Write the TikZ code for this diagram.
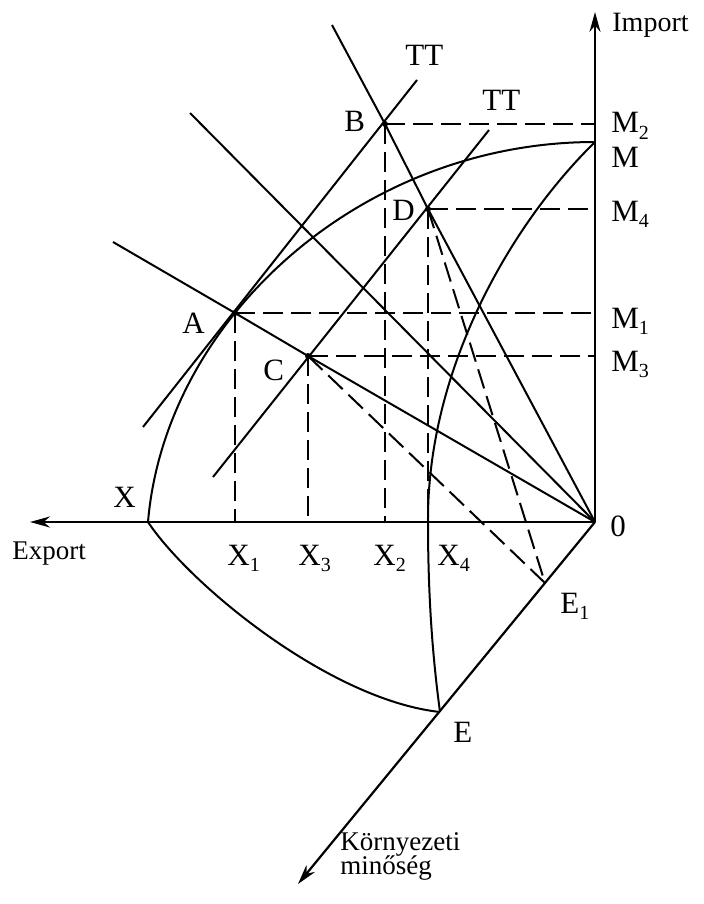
\documentclass[tikz,border=0pt]{standalone}
\usepackage{fontspec}
\setmainfont{Liberation Serif}
\usetikzlibrary{arrows.meta}
\newcommand{\lsub}[1]{\raisebox{-0.45ex}{\fontsize{10}{10}\selectfont #1}}
\begin{document}
\begin{tikzpicture}[x=0.5pt,y=-0.5pt,
  lbl/.style={font=\fontsize{15.5}{17}\selectfont, inner sep=0pt, anchor=base west},
  small/.style={font=\fontsize{13.5}{14}\selectfont, inner sep=0pt, anchor=base west},
  ln/.style={line width=1pt},
  dsh/.style={line width=1pt, dash pattern=on 10pt off 4pt},
  axis/.style={line width=1.1pt, -{Stealth[length=10pt,width=5.5pt]}},
  pt/.style={circle, fill, inner sep=0pt, minimum size=3pt}]
\useasboundingbox (0,0) rectangle (704,904);
% key points
\coordinate (O) at (595,522);
\coordinate (Xp) at (148,522);
\coordinate (M) at (595,142);
\coordinate (E) at (440,712);
\coordinate (E1) at (545,583);
\coordinate (A) at (235,313);
\coordinate (B) at (385,124);
\coordinate (C) at (308,356);
\coordinate (D) at (428,209);
\coordinate (X1) at (A |- O);
\coordinate (X2) at (B |- O);
\coordinate (X3) at (C |- O);
\coordinate (X4) at (D |- O);
\coordinate (M1) at (O |- A);
\coordinate (M2) at (O |- B);
\coordinate (M3) at (O |- C);
\coordinate (M4) at (O |- D);
\coordinate (ExpTip) at (30,522);
\coordinate (ImpTip) at (595,12);
\coordinate (EnvTip) at (298,884);
\coordinate (L1) at (113,242);
\coordinate (L2) at (190,113);
\coordinate (L3) at (332,25);
\coordinate (T1a) at (143,427);
\coordinate (T1b) at (417,80);
\coordinate (T2a) at (213,477);
\coordinate (T2b) at (489,130);
% axes
\draw[axis] (O) -- (ExpTip);
\draw[axis] (O) -- (ImpTip);
\draw[axis] (O) -- (EnvTip);
% curves
\draw[ln] (Xp) .. controls (165,320) and (360,142) .. (M);
\draw[ln] (M) .. controls (510,225) and (427,370) .. (X4) .. controls (428,600) and (433,660) .. (E);
\draw[ln] (Xp) .. controls (190,585) and (330,700) .. (E);
% straight lines
\draw[ln] (L1) -- (A) -- (C) -- (O);
\draw[ln] (L2) -- (O);
\draw[ln] (L3) -- (B) -- (D) -- (O);
\draw[ln] (T1a) -- (T1b);
\draw[ln] (T2a) -- (T2b);
% dashed
\draw[dsh] (B) -- (M2);
\draw[dsh] (B) -- (X2);
\draw[dsh] (A) -- (M1);
\draw[dsh] (A) -- (X1);
\draw[dsh] (C) -- (M3);
\draw[dsh] (C) -- (X3);
\draw[dsh] (D) -- (M4);
\draw[dsh] (D) -- (X4);
\draw[dsh] (D) -- (E1);
\draw[dsh] (C) -- (E1);
% points
\node[pt] (pA) at (A) {};
\node[pt] (pB) at (B) {};
\node[pt] (pC) at (C) {};
\node[pt] (pD) at (D) {};
% labels
\node[small] (limp) at (612,32) {\fontsize{14}{15}\selectfont Import};
\node[small] (lexp) at (12,559) {Export};
\node[small, align=left] (lenv) at (340,874) {Környezeti\\[-2pt]minőség};
\node[lbl] (lM2) at (611,133) {M\lsub{2}};
\node[lbl] (lM) at (611,167) {M};
\node[lbl] (lM4) at (611,221) {M\lsub{4}};
\node[lbl] (lM1) at (611,328) {M\lsub{1}};
\node[lbl] (lM3) at (611,371) {M\lsub{3}};
\node[lbl] (lO) at (610,536) {0};
\node[lbl] (lX) at (113,507) {X};
\node[lbl] (lX1) at (227,565) {X\lsub{1}};
\node[lbl] (lX3) at (298,565) {X\lsub{3}};
\node[lbl] (lX2) at (373,565) {X\lsub{2}};
\node[lbl] (lX4) at (437,565) {X\lsub{4}};
\node[lbl] (lA) at (182,333) {A};
\node[lbl] (lB) at (344,132) {B};
\node[lbl] (lC) at (263,380) {C};
\node[lbl] (lD) at (392,220) {D};
\node[lbl] (lE) at (453,742) {E};
\node[lbl] (lE1) at (560,613) {E\lsub{1}};
\node[lbl] (lTT1) at (405,66) {TT};
\node[lbl] (lTT2) at (482,111) {TT};
\end{tikzpicture}
\end{document}
